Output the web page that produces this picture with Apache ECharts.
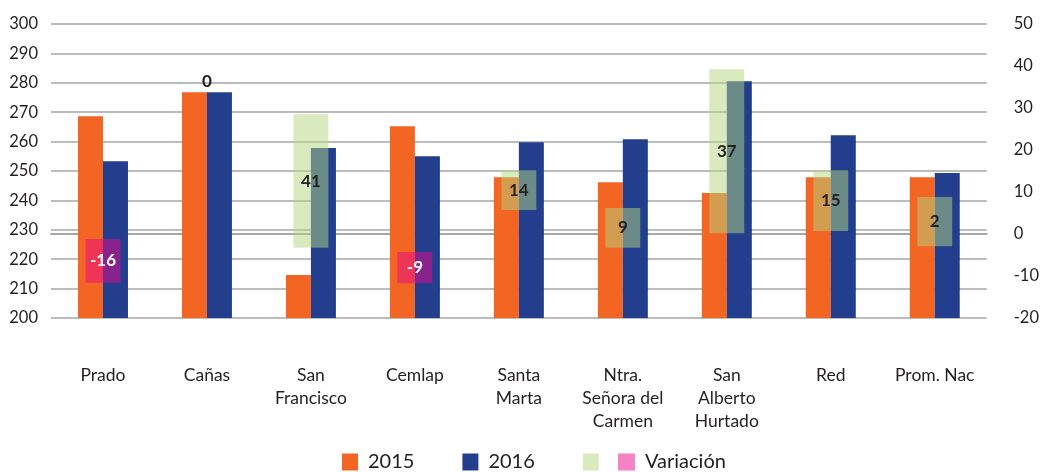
<!DOCTYPE html>
<html>
<head>
<meta charset="utf-8">
<script src="https://cdn.jsdelivr.net/npm/echarts@6/dist/echarts.min.js"></script>
<style>
  html, body { margin: 0; padding: 0; background: #fff; }
  #chart { width: 1042px; height: 472px; }
</style>
</head>
<body>
<div id="chart"></div>
<script>
  var categories = ['Prado', 'Cañas', 'San\nFrancisco', 'Cemlap', 'Santa\nMarta', 'Ntra.\nSeñora del\nCarmen', 'San\nAlberto\nHurtado', 'Red', 'Prom. Nac']
  var values2015 = [268.6, 276.8, 214.6, 265.2, 247.9, 246.2, 242.5, 247.9, 247.9]
  var values2016 = [253.3, 276.8, 257.8, 255.0, 259.8, 260.8, 280.5, 262.2, 249.3]
  // variación (texto) y extremos de la caja sobre el eje derecho
  var variation = [-16, 0, 41, -9, 14, 9, 37, 15, 2]
  var varLow = [-11.6, 36.4, -3.3, -11.7, 5.7, -3.3, 0.2, 0.7, -2.9]
  var varHigh = [-1.2, 36.4, 28.5, -4.3, 15.2, 6.2, 39.2, 15.2, 8.8]

  var FONT = 'Lato'
  var TEXT = '#231f20'

  function varData(positive) {
    return categories.map(function (c, i) {
      var ok = positive ? variation[i] >= 0 : variation[i] < 0
      return ok ? [i, varLow[i], varHigh[i], variation[i]] : [i, '-', '-', '-']
    })
  }

  function renderVar(params, api) {
    if (api.value(3) === '-' || isNaN(api.value(1))) return
    var x = api.value(0)
    var lo = api.coord([x, api.value(1)])
    var hi = api.coord([x, api.value(2)])
    var w = api.size([1, 0])[0] * 0.336
    var neg = api.value(3) < 0
    return {
      type: 'rect',
      shape: { x: lo[0] - w / 2, y: hi[1], width: w, height: lo[1] - hi[1] },
      style: { fill: api.visual('color') },
      textContent: {
        style: {
          text: String(api.value(3)),
          fill: neg ? '#fff' : TEXT,
          font: 'bold 17px ' + FONT
        }
      },
      textConfig: { position: 'inside' }
    }
  }

  var legendText = { fontSize: 20, color: TEXT, fontFamily: FONT, padding: [0, 0, 0, 5] }

  var chart = echarts.init(document.getElementById('chart'))
  chart.setOption({
    animation: false,
    textStyle: { fontFamily: FONT },
    grid: { left: 51, right: 55, top: 24, bottom: 154 },
    legend: [{
      left: 342,
      top: 452,
      padding: 0,
      icon: 'rect',
      itemWidth: 16,
      itemHeight: 17,
      itemGap: 48,
      textStyle: legendText,
      data: ['2015', '2016', ' ']
    }, {
      left: 618,
      top: 452,
      padding: 0,
      icon: 'rect',
      itemWidth: 17,
      itemHeight: 17,
      textStyle: legendText,
      data: ['Variación']
    }],
    xAxis: {
      type: 'category',
      data: categories,
      axisLine: { lineStyle: { color: '#a6a6a6', width: 2 } },
      axisTick: { show: false },
      axisLabel: {
        interval: 0,
        margin: 46,
        fontSize: 17.5,
        lineHeight: 23,
        color: TEXT,
        fontFamily: FONT
      }
    },
    yAxis: [{
      type: 'value',
      min: 200,
      max: 300,
      interval: 10,
      axisLine: { show: false },
      axisTick: { show: false },
      axisLabel: { fontSize: 16.5, color: TEXT, margin: 13, fontFamily: FONT },
      splitLine: { lineStyle: { color: '#a6a6a6', width: 1.5 } }
    }, {
      type: 'value',
      min: -20,
      max: 50,
      interval: 10,
      axisLine: { show: false },
      axisTick: { show: false },
      axisLabel: { fontSize: 16.5, color: TEXT, margin: 27, fontFamily: FONT },
      splitLine: { show: false }
    }],
    series: [{
      name: '2015',
      type: 'bar',
      data: values2015,
      barWidth: 25,
      barGap: '0%',
      itemStyle: { color: '#f26522' }
    }, {
      name: '2016',
      type: 'bar',
      data: values2016,
      barWidth: 25,
      itemStyle: { color: '#243e8e' }
    }, {
      name: ' ',
      type: 'custom',
      yAxisIndex: 1,
      renderItem: renderVar,
      encode: { x: 0, y: [1, 2] },
      itemStyle: { color: 'rgba(180, 213, 128, 0.5)' },
      data: varData(true),
      z: 5
    }, {
      name: 'Variación',
      type: 'custom',
      yAxisIndex: 1,
      renderItem: renderVar,
      encode: { x: 0, y: [1, 2] },
      itemStyle: { color: 'rgba(235, 5, 140, 0.5)' },
      data: varData(false),
      z: 5
    }]
  })
</script>
</body>
</html>
